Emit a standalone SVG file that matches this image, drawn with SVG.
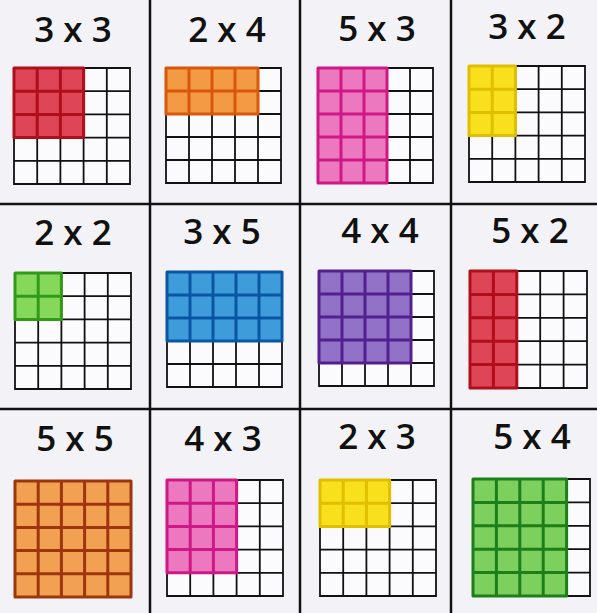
<svg xmlns="http://www.w3.org/2000/svg" xmlns:xlink="http://www.w3.org/1999/xlink" width="597" height="613" viewBox="0 0 597 613">
<style>
.bg{fill:#f3f3f7}
.title{font-family:"Open Sans","Liberation Sans",sans-serif;font-weight:600;font-size:35px;fill:#111;text-anchor:middle}
.div{stroke:#111;stroke-width:2.5;fill:none}
.gl{fill:none;stroke:#111;stroke-width:1.8;vector-effect:non-scaling-stroke}
.gb{fill:#fbfbfd}
.ol{fill:none;stroke-width:3;stroke-linejoin:round;vector-effect:non-scaling-stroke}
.red .f{fill:#de4556}.red .ol{stroke:#b00e1a}
.ora .f{fill:#f39a45}.ora .ol{stroke:#d9560a}
.ora2 .f{fill:#f2a052}.ora2 .ol{stroke:#9e360c}
.pink .f{fill:#ec78c0}.pink .ol{stroke:#d01884}
.yel .f{fill:#f9e01c}.yel .ol{stroke:#e0bf00}
.grn .f{fill:#86d85a}.grn .ol{stroke:#32991a}
.grn2 .f{fill:#7dcf5e}.grn2 .ol{stroke:#1c7f1a}
.blu .f{fill:#3f9cdb}.blu .ol{stroke:#0a56a4}
.pur .f{fill:#9172c6}.pur .ol{stroke:#52208f}
</style>
<defs>
<g id="grid">
<rect class="gb" width="5" height="5"/>
<path class="gl" d="M0 0H5V5H0Z M1 0V5 M2 0V5 M3 0V5 M4 0V5 M0 1H5 M0 2H5 M0 3H5 M0 4H5"/>
</g>
</defs>
<rect class="bg" width="597" height="613"/>
<g id="dividers">
<path class="div" d="M150 0V613 M300 0V613 M451 0V613 M0 204H597 M0 409H597"/>
</g>
<g id="card-3x3">
<text class="title" x="73" y="42">3 x 3</text>
<g class="red" transform="translate(14,68) scale(23.2)">
<use xlink:href="#grid"/>
<rect class="f" width="3" height="3"/>
<path class="ol" d="M0 0H3V3H0Z M1 0V3 M2 0V3 M0 1H3 M0 2H3"/>
</g>
</g>
<g id="card-2x4">
<text class="title" x="227" y="42">2 x 4</text>
<g class="ora" transform="translate(166,68) scale(23)">
<use xlink:href="#grid"/>
<rect class="f" width="4" height="2"/>
<path class="ol" d="M0 0H4V2H0Z M1 0V2 M2 0V2 M3 0V2 M0 1H4"/>
</g>
</g>
<g id="card-5x3">
<text class="title" x="377" y="41">5 x 3</text>
<g class="pink" transform="translate(318,68) scale(23)">
<use xlink:href="#grid"/>
<rect class="f" width="3" height="5"/>
<path class="ol" d="M0 0H3V5H0Z M1 0V5 M2 0V5 M0 1H3 M0 2H3 M0 3H3 M0 4H3"/>
</g>
</g>
<g id="card-3x2">
<text class="title" x="527" y="39">3 x 2</text>
<g class="yel" transform="translate(469,66) scale(23.2)">
<use xlink:href="#grid"/>
<rect class="f" width="2" height="3"/>
<path class="ol" d="M0 0H2V3H0Z M1 0V3 M0 1H2 M0 2H2"/>
</g>
</g>
<g id="card-2x2">
<text class="title" x="73" y="245">2 x 2</text>
<g class="grn" transform="translate(15,273) scale(23.2)">
<use xlink:href="#grid"/>
<rect class="f" width="2" height="2"/>
<path class="ol" d="M0 0H2V2H0Z M1 0V2 M0 1H2"/>
</g>
</g>
<g id="card-3x5">
<text class="title" x="222" y="244">3 x 5</text>
<g class="blu" transform="translate(167,272) scale(23)">
<use xlink:href="#grid"/>
<rect class="f" width="5" height="3"/>
<path class="ol" d="M0 0H5V3H0Z M1 0V3 M2 0V3 M3 0V3 M4 0V3 M0 1H5 M0 2H5"/>
</g>
</g>
<g id="card-4x4">
<text class="title" x="380" y="243">4 x 4</text>
<g class="pur" transform="translate(319,271) scale(23)">
<use xlink:href="#grid"/>
<rect class="f" width="4" height="4"/>
<path class="ol" d="M0 0H4V4H0Z M1 0V4 M2 0V4 M3 0V4 M0 1H4 M0 2H4 M0 3H4"/>
</g>
</g>
<g id="card-5x2">
<text class="title" x="530" y="243">5 x 2</text>
<g class="red" transform="translate(470,271) scale(23.4)">
<use xlink:href="#grid"/>
<rect class="f" width="2" height="5"/>
<path class="ol" d="M0 0H2V5H0Z M1 0V5 M0 1H2 M0 2H2 M0 3H2 M0 4H2"/>
</g>
</g>
<g id="card-5x5">
<text class="title" x="75" y="451">5 x 5</text>
<g class="ora2" transform="translate(15,481) scale(23.2)">
<use xlink:href="#grid"/>
<rect class="f" width="5" height="5"/>
<path class="ol" d="M0 0H5V5H0Z M1 0V5 M2 0V5 M3 0V5 M4 0V5 M0 1H5 M0 2H5 M0 3H5 M0 4H5"/>
</g>
</g>
<g id="card-4x3">
<text class="title" x="223" y="451">4 x 3</text>
<g class="pink" transform="translate(167,480) scale(23.2)">
<use xlink:href="#grid"/>
<rect class="f" width="3" height="4"/>
<path class="ol" d="M0 0H3V4H0Z M1 0V4 M2 0V4 M0 1H3 M0 2H3 M0 3H3"/>
</g>
</g>
<g id="card-2x3">
<text class="title" x="377" y="449">2 x 3</text>
<g class="yel" transform="translate(320,480) scale(23.2)">
<use xlink:href="#grid"/>
<rect class="f" width="3" height="2"/>
<path class="ol" d="M0 0H3V2H0Z M1 0V2 M2 0V2 M0 1H3"/>
</g>
</g>
<g id="card-5x4">
<text class="title" x="532" y="449">5 x 4</text>
<g class="grn2" transform="translate(473,479) scale(23.4)">
<use xlink:href="#grid"/>
<rect class="f" width="4" height="5"/>
<path class="ol" d="M0 0H4V5H0Z M1 0V5 M2 0V5 M3 0V5 M0 1H4 M0 2H4 M0 3H4 M0 4H4"/>
</g>
</g>
</svg>
